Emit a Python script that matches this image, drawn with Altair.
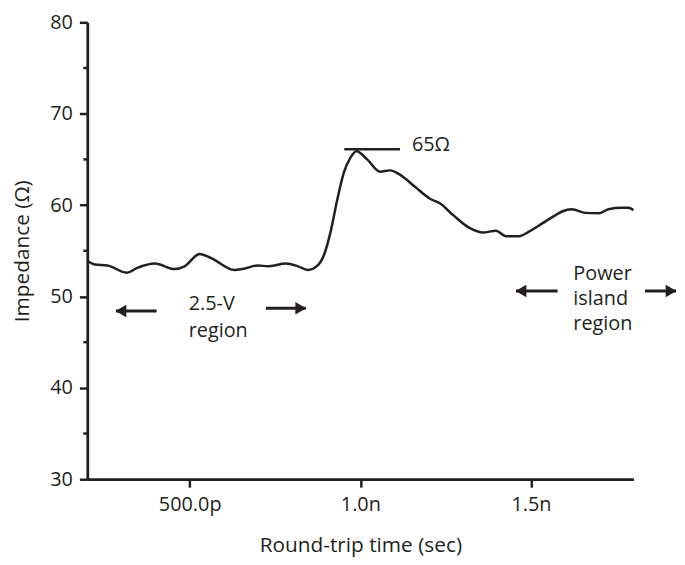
import altair as alt
import pandas as pd

# ---- data (time in ns, impedance in ohms) ----
time_ns = [0.200, 0.222, 0.259, 0.316, 0.345, 0.398, 0.456, 0.485, 0.529, 0.563,
           0.631, 0.654, 0.700, 0.729, 0.782, 0.817, 0.846, 0.875, 0.894, 0.913,
           0.933, 0.952, 0.971, 0.989, 1.020, 1.058, 1.087, 1.117, 1.160, 1.204,
           1.233, 1.272, 1.320, 1.359, 1.397, 1.427, 1.465, 1.494, 1.533, 1.572,
           1.591, 1.620, 1.659, 1.698, 1.727, 1.766, 1.785, 1.800]
impedance = [53.9, 53.5, 53.4, 52.6, 53.1, 53.6, 53.0, 53.3, 54.65, 54.2,
             52.9, 53.0, 53.4, 53.3, 53.6, 53.3, 52.9, 53.4, 54.6, 57.1,
             60.7, 63.6, 65.2, 65.9, 65.0, 63.65, 63.8, 63.3, 62.0, 60.7,
             60.2, 58.9, 57.5, 57.0, 57.2, 56.6, 56.6, 57.1, 58.0, 58.9,
             59.3, 59.55, 59.15, 59.1, 59.55, 59.7, 59.7, 59.45]

x_tick_values = [0.5, 1.0, 1.5]
x_tick_labels = ["500.0p", "1.0n", "1.5n"]
y_tick_values = [30, 40, 50, 60, 70, 80]
y_minor_values = [35, 45, 55, 65, 75]

# annotations
label_text = ["2.5-V", "region", "Power", "island", "region", "65Ω"]
label_x = [0.497, 0.497, 1.624, 1.624, 1.624, 1.151]
label_y = [49.2, 46.2, 52.4, 49.7, 46.95, 66.6]

arrow_tail = [0.403, 0.723, 1.578, 1.834]
arrow_tip = [0.284, 0.840, 1.456, 1.925]
arrow_level = [48.4, 48.7, 50.6, 50.6]

peak_x1, peak_x2, peak_level = [0.953], [1.116], [66.1]

INK = "#231f20"
FONT = "Open Sans"

df = pd.DataFrame({"t": time_ns, "z": impedance})
xscale = alt.Scale(domain=[0.2, 1.8], nice=False, zero=False)
yscale = alt.Scale(domain=[30, 80], nice=False, zero=False)

label_expr = " : ".join(
    f"abs(datum.value - {v}) < 1e-6 ? '{l}'" for v, l in zip(x_tick_values, x_tick_labels)
) + " : ''"

yaxis = alt.Axis(values=y_tick_values, title="Impedance (Ω)", labelPadding=7,
                 titleX=-65, titleY=230.5, titleBaseline="middle", titleAngle=-90)

line = alt.Chart(df).mark_line(color=INK, strokeWidth=2.5, interpolate="monotone").encode(
    x=alt.X("t:Q", scale=xscale,
            axis=alt.Axis(values=x_tick_values, labelExpr=label_expr,
                          title="Round-trip time (sec)", labelPadding=8,
                          titleY=67, titleBaseline="middle")),
    y=alt.Y("z:Q", scale=yscale, axis=yaxis),
)

minor = alt.Chart(pd.DataFrame({"m": y_minor_values})).mark_rule(
    color=INK, strokeWidth=2.5).encode(
    y=alt.Y("m:Q", scale=yscale, axis=yaxis),
    x=alt.value(-4), x2=alt.value(0))

adf = pd.DataFrame({"tail": arrow_tail, "tip": arrow_tip, "lvl": arrow_level})
adf["left"] = adf["tip"] < adf["tail"]
shafts = alt.Chart(adf).mark_rule(color=INK, strokeWidth=3).encode(
    x=alt.X("tail:Q", scale=xscale), x2="tip:Q", y=alt.Y("lvl:Q", scale=yscale))
heads_l = alt.Chart(adf[adf["left"]]).mark_point(
    shape="triangle-left", filled=True, color=INK, opacity=1, size=160, xOffset=5).encode(
    x=alt.X("tip:Q", scale=xscale), y=alt.Y("lvl:Q", scale=yscale))
heads_r = alt.Chart(adf[~adf["left"]]).mark_point(
    shape="triangle-right", filled=True, color=INK, opacity=1, size=160, xOffset=-5).encode(
    x=alt.X("tip:Q", scale=xscale), y=alt.Y("lvl:Q", scale=yscale))

peak = alt.Chart(pd.DataFrame({"a": peak_x1, "b": peak_x2, "l": peak_level})).mark_rule(
    color=INK, strokeWidth=2.5).encode(
    x=alt.X("a:Q", scale=xscale), x2="b:Q", y=alt.Y("l:Q", scale=yscale))

texts = alt.Chart(pd.DataFrame({"s": label_text, "x": label_x, "y": label_y})).mark_text(
    align="left", baseline="middle", font=FONT, fontSize=20, color=INK).encode(
    x=alt.X("x:Q", scale=xscale), y=alt.Y("y:Q", scale=yscale), text="s:N")

chart = alt.layer(line, minor, shafts, heads_l, heads_r, peak, texts).properties(
    width=551, height=461,
    autosize=alt.AutoSizeParams(type="none"),
    padding={"left": 80, "top": 12, "right": 44, "bottom": 76},
).configure_view(stroke=None).configure_axis(
    grid=False, domainColor=INK, domainWidth=2.8, tickColor=INK, tickWidth=2.5,
    tickSize=8, labelFont=FONT, labelFontSize=20, labelColor=INK,
    titleFont=FONT, titleFontSize=21, titleFontWeight="normal", titleColor=INK,
)

chart.save("out.html", embed_options={"renderer": "svg", "actions": False})
